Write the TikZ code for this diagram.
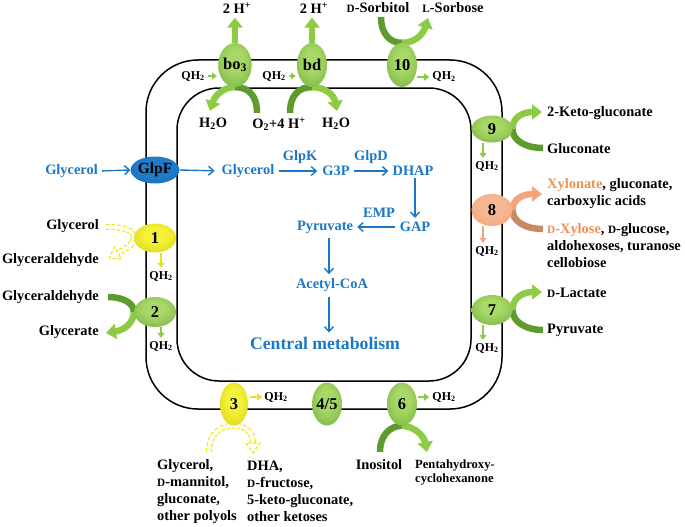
\documentclass[tikz,border=0pt]{standalone}
\usepackage{graphicx}
\usepackage{fontspec}
\setmainfont{Liberation Serif}
\usetikzlibrary{arrows.meta,shapes.geometric}
\definecolor{lgreen}{HTML}{8DCB45}
\definecolor{dgreen}{HTML}{5E9B2F}
\definecolor{egin}{HTML}{A8D867}
\definecolor{egout}{HTML}{5F9F2E}
\definecolor{yin}{HTML}{F5F23A}
\definecolor{yout}{HTML}{C9C200}
\definecolor{sin}{HTML}{F8B896}
\definecolor{sout}{HTML}{EF9A6C}
\definecolor{salmonlight}{HTML}{F4A47C}
\definecolor{salmondark}{HTML}{C88A66}
\definecolor{bin}{HTML}{1E7CC8}
\definecolor{bout}{HTML}{0F5EA5}
\definecolor{pblue}{HTML}{1B78C6}
\definecolor{orng}{HTML}{F28D52}
\definecolor{dyel}{HTML}{F0E614}
\definecolor{qyel}{HTML}{E8E020}
\pgfdeclareradialshading{gshade}{\pgfpoint{0bp}{6bp}}{color(0bp)=(egin); color(12bp)=(egin); color(50bp)=(egout); color(100bp)=(egout)}
\pgfdeclareradialshading{yshade}{\pgfpoint{0bp}{6bp}}{color(0bp)=(yin); color(12bp)=(yin); color(50bp)=(yout); color(100bp)=(yout)}
\pgfdeclareradialshading{sshade}{\pgfpoint{0bp}{6bp}}{color(0bp)=(sin); color(12bp)=(sin); color(50bp)=(sout); color(100bp)=(sout)}
\pgfdeclareradialshading{bshade}{\pgfpoint{0bp}{6bp}}{color(0bp)=(bin); color(20bp)=(bin); color(50bp)=(bout); color(100bp)=(bout)}
\pgfdeclarelayer{bg}
\pgfsetlayers{bg,main}
\newcommand{\smD}[1]{\scalebox{0.78}{#1}}
\begin{document}
\begin{tikzpicture}[x=1pt,y=-1pt,
  lbl/.style={font=\fontsize{14.4}{17}\selectfont\bfseries, inner sep=0pt, align=left},
  blbl/.style={lbl, text=pblue},
  qh/.style={font=\fontsize{12}{13}\selectfont\bfseries, inner sep=0pt},
  enz/.style={ellipse, inner sep=0pt, font=\fontsize{16.5}{18}\selectfont\bfseries},
  venz/.style={enz, minimum width=30pt, minimum height=44pt},
  henz/.style={enz, minimum width=42pt, minimum height=30pt},
  genz/.style={shade, shading=gshade},
  yenz/.style={shade, shading=yshade},
  senz/.style={shade, shading=sshade},
  benz/.style={shade, shading=bshade},
  membrane/.style={line width=1.5pt, rounded corners=#1},
  tailg/.style={line width=6.5pt, draw=dgreen},
  headg/.style={line width=6.5pt, draw=lgreen, -{Triangle[width=15pt,length=10pt]}},
  tails/.style={line width=6.5pt, draw=salmondark},
  heads/.style={line width=6.5pt, draw=salmonlight, -{Triangle[width=15pt,length=10pt]}},
  qarr/.style={line width=2.5pt, -{Triangle[width=7pt,length=5pt]}},
  barr/.style={line width=1.4pt, draw=pblue, -{Straight Barb[length=5pt,width=9pt]}},
  dyarr/.style={draw=dyel, line width=1.2pt, dash pattern=on 3.5pt off 2pt, double=white, double distance=3.6pt},
  dyhead/.style={draw=dyel, line width=1.2pt, dash pattern=on 3.5pt off 2pt, fill=white}
]
\useasboundingbox (0,0) rectangle (685,527);

% enzymes
\node[venz, genz] (bo3) at (235,65) {bo\textsubscript{3}};
\node[venz, genz] (bd) at (312,65) {bd};
\node[venz, genz] (e10) at (402,65) {10};
\node[enz, benz, minimum width=44pt, minimum height=27pt, font=\fontsize{15.5}{17}\selectfont\bfseries] (glpf) at (155,170) {GlpF};
\node[henz, yenz, minimum height=29pt] (e1) at (155,238) {1};
\node[henz, genz] (e2) at (155,312) {2};
\node[venz, yenz, minimum width=28pt, minimum height=43pt] (e3) at (234,404) {3};
\node[venz, genz, minimum height=43pt] (e45) at (327,404) {4/5};
\node[venz, genz, minimum height=43pt] (e6) at (402,404) {6};
\node[enz, genz, minimum width=41pt, minimum height=27pt] (e9) at (492,129) {9};
\node[enz, senz, minimum width=41pt, minimum height=32pt] (e8) at (492,210) {8};
\node[enz, genz, minimum width=41pt, minimum height=30pt] (e7) at (492,310) {7};

% top labels
\node[lbl] (hp1) at (237,8) {2 H\textsuperscript{+}};
\node[lbl] (hp2) at (314,8) {2 H\textsuperscript{+}};
\node[lbl] (sorb) at (378,8) {\smD{D}-Sorbitol};
\node[lbl] (sorbose) at (453,8) {\smD{L}-Sorbose};
\node[qh] (q1) at (193,76) {QH\textsubscript{2}};
\node[qh] (q2) at (274,76) {QH\textsubscript{2}};
\node[qh] (q3) at (444,77) {QH\textsubscript{2}};
\node[lbl] (w1) at (213,124) {H\textsubscript{2}O};
\node[lbl] (o2) at (279,124) {O\textsubscript{2}+4 H\textsuperscript{+}};
\node[lbl] (w2) at (336,124) {H\textsubscript{2}O};

% left labels
\node[blbl, anchor=east] (gly0) at (98,171) {Glycerol};
\node[lbl, anchor=east] (gly1) at (99,226) {Glycerol};
\node[lbl, anchor=east] (gald1) at (99,260) {Glyceraldehyde};
\node[qh] (q4) at (161,276) {QH\textsubscript{2}};
\node[lbl, anchor=east] (gald2) at (99,297) {Glyceraldehyde};
\node[lbl, anchor=east] (glyc) at (99,332) {Glycerate};
\node[qh] (q5) at (161,346) {QH\textsubscript{2}};

% central pathway
\node[blbl] (gly2) at (248,171) {Glycerol};
\node[blbl] (g3p) at (336,171) {G3P};
\node[blbl] (dhap) at (413,171) {DHAP};
\node[blbl] (gap) at (415,227) {GAP};
\node[blbl] (pyr) at (325,227) {Pyruvate};
\node[blbl] (acoa) at (332,285) {Acetyl-CoA};
\node[blbl, font=\fontsize{17.7}{20}\selectfont\bfseries] (cm) at (325,343) {Central metabolism};
\node[blbl] (glpk) at (300,157) {GlpK};
\node[blbl] (glpd) at (371,157) {GlpD};
\node[blbl] (emp) at (379,213) {EMP};

% right labels
\node[lbl, anchor=west] (kg) at (547,113) {2-Keto-gluconate};
\node[lbl, anchor=west] (gluc) at (547,149) {Gluconate};
\node[qh] (q6) at (487,166) {QH\textsubscript{2}};
\node[lbl, anchor=west] (xyl) at (547,193.5) {\textcolor{orng}{Xylonate}, gluconate,\\carboxylic acids};
\node[lbl, anchor=west] (dxyl) at (547,245.5) {\textcolor{orng}{\smD{D}-Xylose}, \smD{D}-glucose,\\aldohexoses, turanose\\cellobiose};
\node[qh] (q7) at (487,251) {QH\textsubscript{2}};
\node[lbl, anchor=west] (dlac) at (547,293) {\smD{D}-Lactate};
\node[lbl, anchor=west] (pyr2) at (547,330) {Pyruvate};
\node[qh] (q8) at (487,348) {QH\textsubscript{2}};

% bottom labels
\node[qh] (q9) at (276,397) {QH\textsubscript{2}};
\node[qh] (q10) at (444,397) {QH\textsubscript{2}};
\node[lbl, anchor=west] (subs3) at (157,491.5) {Glycerol,\\\smD{D}-mannitol,\\gluconate,\\other polyols};
\node[lbl, anchor=west] (prod3) at (247,491.5) {DHA,\\\smD{D}-fructose,\\5-keto-gluconate,\\other ketoses};
\node[lbl] (ino) at (379,465) {Inositol};
\node[lbl, anchor=west, font=\fontsize{12.6}{13.5}\selectfont\bfseries] (penta) at (415,472.5) {Pentahydroxy-\\cyclohexanone};

\begin{pgfonlayer}{bg}
% membranes
\draw[membrane=52pt] (146,60) rectangle (502,409);
\draw[membrane=42pt] (177,88) rectangle (471,381);

% proton pumping
\draw[headg, shorten >=4pt] (bo3.north) -- (bo3.north |- hp1.south);
\draw[headg, shorten >=4pt] (bd.north) -- (bd.north |- hp2.south);

% bo3 arc
\coordinate (bo3t) at (257,113);
\coordinate (bo3h) at (210,111);
\draw[tailg] (bo3t) .. controls (257,96) and (249,87) .. (bo3.south);
\draw[headg] (bo3.south) .. controls (224,87) and (215,95) .. (bo3h);
% bd arc
\coordinate (bdt) at (290,113);
\coordinate (bdh) at (337,111);
\draw[tailg] (bdt) .. controls (290,96) and (298,87) .. (bd.south);
\draw[headg] (bd.south) .. controls (325,87) and (334,95) .. (bdh);
% 10 arc
\coordinate (e10t) at (381,17);
\coordinate (e10h) at (428,18);
\draw[tailg] (e10t) .. controls (381,34) and (390,43) .. (e10.north);
\draw[headg] (e10.north) .. controls (414,43) and (423,35) .. (e10h);
% 2 arc
\coordinate (e2t) at (108,297);
\coordinate (e2h) at (106,333);
\draw[tailg] (e2t) .. controls (123,297) and (134,303) .. (e2.west);
\draw[headg] (e2.west) .. controls (134,322) and (125,330) .. (e2h);
% 9 arc
\coordinate (e9t) at (543,148);
\coordinate (e9h) at (542,112);
\draw[tailg] (e9t) .. controls (525,148) and (512,140) .. (e9.east);
\draw[headg] (e9.east) .. controls (512,118) and (522,112) .. (e9h);
% 8 arc
\coordinate (e8t) at (543,229);
\coordinate (e8h) at (542,194);
\draw[tails] (e8t) .. controls (525,229) and (512,221) .. (e8.east);
\draw[heads] (e8.east) .. controls (512,200) and (522,194) .. (e8h);
% 7 arc
\coordinate (e7t) at (543,330);
\coordinate (e7h) at (542,292);
\draw[tailg] (e7t) .. controls (525,330) and (512,321) .. (e7.east);
\draw[headg] (e7.east) .. controls (512,299) and (522,292) .. (e7h);
% 6 arc
\coordinate (e6t) at (380,452);
\coordinate (e6h) at (427,452);
\draw[tailg] (e6t) .. controls (380,435) and (390,426) .. (e6.south);
\draw[headg] (e6.south) .. controls (414,426) and (424,436) .. (e6h);

% dashed hollow arrows
\coordinate (e1t) at (106,227);
\coordinate (e1s) at (118,253);
\draw[dyarr] (e1t) .. controls (127,227) and (134,231) .. (e1.west) .. controls (134,245) and (125,249) .. (e1s);
\draw[dyhead] (121.5,259.1) -- (109.3,258) -- (114.5,246.9) -- cycle;
\coordinate (e3t) at (209,452);
\coordinate (e3s) at (253,443);
\draw[dyarr] (e3t) .. controls (209,434) and (220,425.5) .. (e3.south) .. controls (246,425.5) and (253,433) .. (e3s);
\draw[dyhead] (246,443) -- (253,453) -- (260,443) -- cycle;

% QH2 arrows
\draw[qarr, lgreen, shorten <=3pt, shorten >=1pt] (q1.east) -- (q1.east -| bo3.west);
\draw[qarr, lgreen, shorten <=3pt, shorten >=1pt] (q2.east) -- (q2.east -| bd.west);
\draw[qarr, lgreen, shorten >=3pt] (e10.east |- q3.west) -- (q3.west);
\coordinate (a1) at ([xshift=6pt]e1.south);
\coordinate (a2) at ([xshift=6pt]e2.south);
\coordinate (a9) at ([xshift=-9pt]e9.south);
\coordinate (a8) at ([xshift=-9pt]e8.south);
\coordinate (a7) at ([xshift=-9pt]e7.south);
\draw[qarr, qyel, shorten >=3pt] (a1) -- (a1 |- q4.north);
\draw[qarr, lgreen, shorten >=3pt] (a2) -- (a2 |- q5.north);
\draw[qarr, lgreen, shorten >=3pt] (a9) -- (a9 |- q6.north);
\draw[qarr, salmonlight, shorten >=3pt] (a8) -- (a8 |- q7.north);
\draw[qarr, lgreen, shorten >=3pt] (a7) -- (a7 |- q8.north);
\draw[qarr, qyel, shorten <=2pt, shorten >=2pt] (e3.east |- q9.west) -- (q9.west);
\draw[qarr, lgreen, shorten <=1pt, shorten >=3pt] (e6.east |- q10.west) -- (q10.west);

% blue pathway arrows
\draw[barr, shorten <=4pt] (gly0.east) -- (glpf.west);
\draw[barr, shorten >=7pt] (glpf.east) -- (gly2.west);
\draw[barr, shorten <=5pt, shorten >=5pt] (gly2.east) -- (g3p.west);
\draw[barr, shorten <=4pt, shorten >=4pt] (g3p.east) -- (dhap.west);
\draw[barr, shorten <=2pt, shorten >=4pt] (gap.north |- dhap.south) -- (gap.north);
\draw[barr, shorten <=5pt, shorten >=4pt] (gap.west) -- (pyr.east);
\coordinate (pa) at ([xshift=4pt]pyr.south);
\draw[barr, shorten <=5pt, shorten >=4pt] (pa) -- (pa |- acoa.north);
\draw[barr, shorten <=5pt, shorten >=4pt] (pa |- acoa.south) -- (pa |- cm.north);
\end{pgfonlayer}
\end{tikzpicture}
\end{document}
